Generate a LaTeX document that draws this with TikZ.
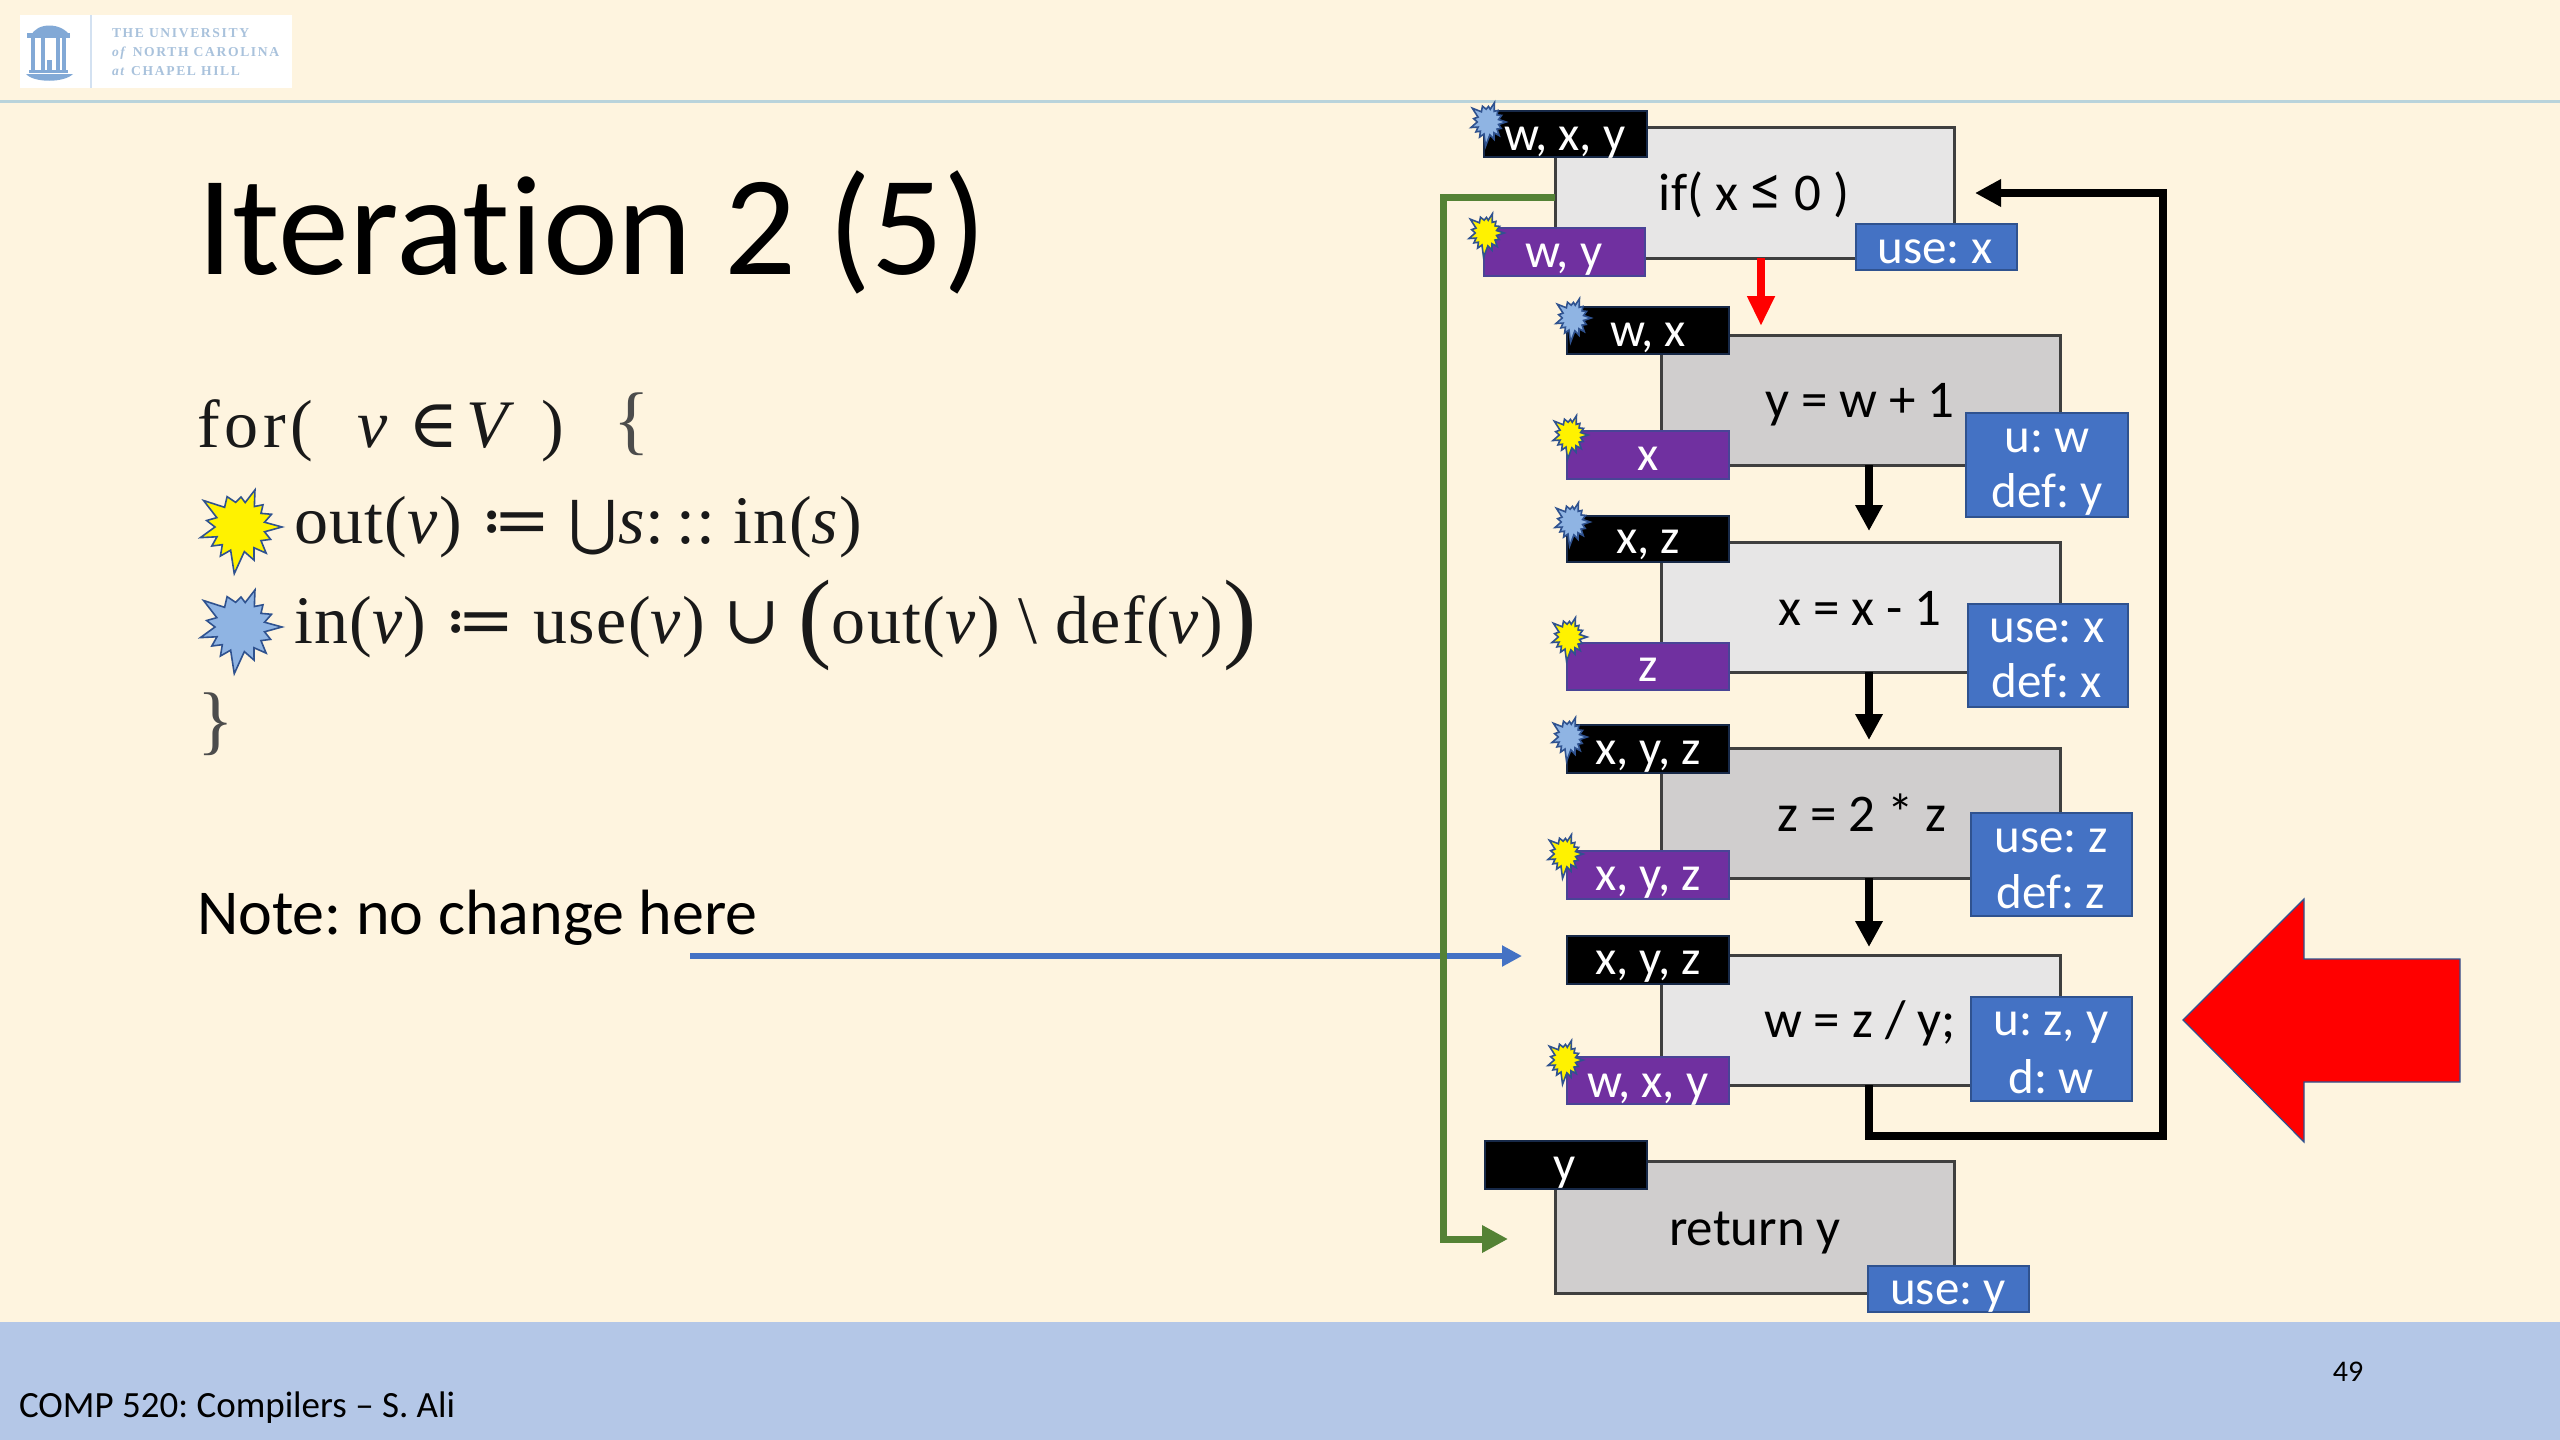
\documentclass[tikz,border=0pt]{standalone}
\usepackage{fontspec}
\setmainfont{Carlito}
\newfontfamily\cam[LetterSpace=2]{Liberation Serif}
\newfontfamily\sym{DejaVu Serif}
\newfontfamily\symb{DejaVu Sans}
\newfontfamily\logof[LetterSpace=12]{Liberation Serif}
\usetikzlibrary{arrows.meta,calc}
\frenchspacing
\definecolor{bgc}{HTML}{FEF4DF}
\definecolor{bandc}{HTML}{B4C7E7}
\definecolor{rulec}{HTML}{B9D3DB}
\definecolor{lightb}{HTML}{E7E6E6}
\definecolor{darkb}{HTML}{D0CECE}
\definecolor{edgec}{HTML}{3F3F3F}
\definecolor{purplec}{HTML}{7030A0}
\definecolor{bluec}{HTML}{4472C4}
\definecolor{blueedge}{HTML}{2F528F}
\definecolor{greenc}{HTML}{548235}
\definecolor{burstblue}{HTML}{8FB4E3}
\definecolor{logoc}{HTML}{82A9D6}
\definecolor{logot}{HTML}{A9C2DC}
\tikzset{
  x=0.5pt,y=-0.5pt,
  rectn/.style={inner sep=0pt,outer sep=0pt,anchor=center},
  mainlight/.style={rectn,fill=lightb,draw=edgec,line width=1.5pt},
  maindark/.style={rectn,fill=darkb,draw=edgec,line width=1.5pt},
  blackbox/.style={rectn,fill=black,draw=blueedge!50!black,line width=.6pt},
  purplebox/.style={rectn,fill=purplec,draw=blueedge!60!purplec,line width=.6pt},
  bluebox/.style={rectn,fill=bluec,draw=blueedge,line width=.8pt},
  txt/.style={inner sep=0pt,outer sep=0pt,anchor=base},
  codetxt/.style={txt,text=black,font=\fontsize{26.5}{30}\selectfont},
  labtxt/.style={txt,text=white,font=\fontsize{24.5}{28}\selectfont},
  mathtxt/.style={txt,anchor=base west,text=black!90,font=\cam\fontsize{34}{38}\selectfont},
  bracetxt/.style={txt,anchor=base west,text=black!70,font=\cam\fontsize{38}{42}\selectfont},
  blackarrow/.style={draw=black,line width=4.2pt,-{Triangle[length=13pt,width=13pt]}},
  loopback/.style={draw=black,line width=3.7pt,line join=miter,-{Triangle[length=13pt,width=13pt]}},
  redarrow/.style={draw=red,line width=4pt,-{Triangle[length=15pt,width=13pt]}},
  greenarrow/.style={draw=greenc,line width=3.5pt,-{Triangle[length=13pt,width=13pt]}},
  notearrow/.style={draw=bluec,line width=2.6pt,-{Triangle[length=10pt,width=10pt]}},
  pics/burst/.style 2 args={code={
    \draw[fill=#1,draw=blueedge,line width=#2,line join=miter,miter limit=20]
      (0:42) -- (11:25) -- (22:33) -- (33:25) -- (45:37) -- (56:25) -- (67:36) -- (80:25) -- (97:47)
      -- (112:25) -- (124:35) -- (135:25) -- (146:34) -- (157:25) -- (165:41) -- (180:25) -- (191:34)
      -- (202:25) -- (216:45) -- (232:25) -- (247:33) -- (260:25) -- (272:30) -- (282:25) -- (292:40)
      -- (305:25) -- (316:32) -- (327:25) -- (338:34) -- (349:25) -- cycle;
  }},
}
\newcommand\bx[6]{\node[#1,minimum width={(#5-#3)*0.5pt},minimum height={(#6-#4)*0.5pt}] (#2) at ({(#3+#5)/2},{(#4+#6)/2}) {};}
\newcommand\tx[5]{\node[#1] (#2) at (#3,#4) {#5};}
\begin{document}
\begin{tikzpicture}
\useasboundingbox (0,0) rectangle (2560,1440);
\fill[bgc] (0,0) rectangle (2560,1440);
\fill[bandc] (0,1322) rectangle (2560,1440);
\draw[rulec,line width=1.5pt] (0,101) -- (2560,101);

% logo
\fill[white] (20,15) rectangle (292,88);
\draw[logoc!35!white,line width=.6pt] (91,15) -- (91,88);
\begin{scope}[logoc]
  \fill (31,36) .. controls (36,22) and (62,22) .. (70,36) -- cycle;
  \fill (27,33) rectangle (70,38);
  \foreach \q in {31,41,56,62} {\fill (\q,38) rectangle ++(4,33);}
  \fill (47,60) rectangle (52,70);
  \fill (29,70) rectangle (68,73);
  \fill (26,74) .. controls (34,83) and (64,83) .. (73,74) -- cycle;
\end{scope}
\tx{txt,anchor=base west,text=logot,font=\logof\bfseries\fontsize{6.8}{8}\selectfont}{lg1}{112}{37}{THE UNIVERSITY}
\tx{txt,anchor=base west,text=logot,font=\logof\bfseries\fontsize{6.8}{8}\selectfont}{lg2}{112}{56}{\textit{of} NORTH CAROLINA}
\tx{txt,anchor=base west,text=logot,font=\logof\bfseries\fontsize{6.8}{8}\selectfont}{lg3}{112}{75}{\textit{at} CHAPEL HILL}

% left side text
\tx{txt,anchor=base west,font=\addfontfeature{Ligatures=NoCommon}\fontsize{71}{80}\selectfont}{title}{197}{274}{Iteration 2 (5)}
\tx{mathtxt}{l1}{197}{447}{\addfontfeature{LetterSpace=7}for(}
\tx{mathtxt}{l1v}{357}{447}{\textit{v}}
\tx{mathtxt}{l1in}{408}{447}{{\sym ∈}}
\tx{mathtxt}{l1V}{466}{447}{\textit{V}}
\tx{mathtxt}{l1p}{541}{447}{)}
\tx{bracetxt}{l1b}{613}{445}{\{}
\tx{mathtxt}{l2}{294}{543}{out(\textit{v}) {\sym ≔} {\symb\fontsize{30}{30}\selectfont ⋃}\textit{s}:\,:: in(\textit{s})}
\tx{mathtxt}{l3}{294}{643}{in(\textit{v}) {\sym ≔} use(\textit{v}) {\sym ∪} {\fontsize{50}{50}\selectfont\raisebox{-3pt}{(}}out(\textit{v}) \textbackslash{} def(\textit{v}){\fontsize{50}{50}\selectfont\raisebox{-3pt}{)}}}
\tx{bracetxt}{l4}{197}{745}{\}}
\tx{txt,anchor=base west,font=\fontsize{32}{36}\selectfont}{note}{197}{934}{Note: no change here}
\tx{txt,anchor=base west,font=\fontsize{18.5}{22}\selectfont}{foot}{19}{1417}{COMP 520: Compilers – S. Ali}
\tx{txt,anchor=base,font=\fontsize{15}{18}\selectfont}{pnum}{2348}{1381}{49}
\pic at (240,527) {burst={yellow}{.8pt}};
\pic at (240,627) {burst={burstblue}{.8pt}};

% main boxes
\bx{mainlight}{ifb}{1555}{127}{1954}{258}
\bx{maindark}{b2}{1661}{335}{2060}{465}
\bx{mainlight}{b3}{1661}{542}{2060}{672}
\bx{maindark}{b4}{1661}{748}{2060}{878}
\bx{mainlight}{b5}{1661}{955}{2060}{1085}
\bx{maindark}{b6}{1555}{1161}{1954}{1293}

% connector ends
\coordinate (redtip) at (1761,326);
\coordinate (t2) at (1869,531);
\coordinate (t3) at (1869,740);
\coordinate (t4) at (1869,947);
\coordinate (lc1) at (1869,1136);
\coordinate (lc2) at (2163,1136);
\coordinate (looptip) at (1975,193);
\coordinate (gs) at (1555,197);
\coordinate (gc) at (1443,1239);
\coordinate (gtip) at (1508,1239);
\coordinate (nstart) at (690,956);
\coordinate (ntip) at (1522,956);

\draw[notearrow] (nstart) -- (ntip);
\draw[greenarrow] (gs) -| (gc) -- (gtip);
\draw[redarrow] (redtip |- ifb.south) -- (redtip);
\draw[blackarrow] (t2 |- b2.south) -- (t2);
\draw[blackarrow] (t3 |- b3.south) -- (t3);
\draw[blackarrow] (t4 |- b4.south) -- (t4);
\draw[loopback] (lc1 |- b5.south) -- (lc1) -- (lc2) |- (looptip);

% big red arrow
\fill[red,draw=blueedge,line width=.6pt] (2183,1020) -- (2304,899) -- (2304,959) -- (2460,959) -- (2460,1082) -- (2304,1082) -- (2304,1142) -- cycle;

% in / out / use-def boxes
\bx{blackbox}{k1}{1484}{111}{1647}{157}
\bx{purplebox}{p1}{1484}{228}{1645}{276}
\bx{bluebox}{u1}{1856}{224}{2017}{270}
\bx{blackbox}{k2}{1567}{307}{1729}{354}
\bx{purplebox}{p2}{1567}{431}{1729}{479}
\bx{bluebox}{u2}{1966}{413}{2128}{517}
\bx{blackbox}{k3}{1567}{516}{1729}{562}
\bx{purplebox}{p3}{1567}{643}{1729}{690}
\bx{bluebox}{u3}{1968}{604}{2128}{707}
\bx{blackbox}{k4}{1567}{725}{1729}{773}
\bx{purplebox}{p4}{1567}{851}{1729}{899}
\bx{bluebox}{u4}{1971}{813}{2132}{916}
\bx{blackbox}{k5}{1567}{936}{1729}{984}
\bx{purplebox}{p5}{1567}{1057}{1729}{1104}
\bx{bluebox}{u5}{1971}{997}{2132}{1101}
\bx{blackbox}{k6}{1485}{1141}{1647}{1189}
\bx{bluebox}{u6}{1868}{1266}{2029}{1312}

% code text
\tx{codetxt}{c1}{1754}{210}{if( x {\fontsize{32}{32}\selectfont ≤} 0 )}
\tx{codetxt}{c2}{1860}{417}{y = w + 1}
\tx{codetxt}{c3}{1860}{625}{x = x - 1}
\tx{codetxt}{c4}{1862}{831}{z = 2 * z}
\tx{codetxt}{c5}{1860}{1037}{w = z / y;}
\tx{codetxt}{c6}{1755}{1245}{return y}

% labels
\tx{labtxt}{kt1}{1565}{150}{w, x, y}
\tx{labtxt}{pt1}{1564}{267}{w, y}
\tx{labtxt}{ut1}{1935}{263}{use: x}
\tx{labtxt}{kt2}{1648}{346}{w, x}
\tx{labtxt}{pt2}{1648}{470}{x}
\tx{labtxt}{ut2a}{2047}{452}{u: w}
\tx{labtxt}{ut2b}{2047}{507}{def: y}
\tx{labtxt}{kt3}{1648}{553}{x, z}
\tx{labtxt}{pt3}{1648}{681}{z}
\tx{labtxt}{ut3a}{2047}{642}{use: x}
\tx{labtxt}{ut3b}{2047}{697}{def: x}
\tx{labtxt}{kt4}{1648}{764}{x, y, z}
\tx{labtxt}{pt4}{1648}{890}{x, y, z}
\tx{labtxt}{ut4a}{2051}{852}{use: z}
\tx{labtxt}{ut4b}{2051}{908}{def: z}
\tx{labtxt}{kt5}{1648}{974}{x, y, z}
\tx{labtxt}{pt5}{1648}{1097}{w, x, y}
\tx{labtxt}{ut5a}{2051}{1035}{u: z, y}
\tx{labtxt}{ut5b}{2051}{1093}{d: w}
\tx{labtxt}{kt6}{1565}{1180}{y}
\tx{labtxt}{ut6}{1948}{1304}{use: y}

% small bursts
\pic[xscale=.43,yscale=.52] at (1488,122) {burst={burstblue}{.8pt}};
\pic[xscale=.43,yscale=.52] at (1486,233) {burst={yellow}{.8pt}};
\pic[xscale=.43,yscale=.52] at (1573,318) {burst={burstblue}{.8pt}};
\pic[xscale=.43,yscale=.52] at (1570,435) {burst={yellow}{.8pt}};
\pic[xscale=.43,yscale=.52] at (1572,522) {burst={burstblue}{.8pt}};
\pic[xscale=.43,yscale=.52] at (1569,637) {burst={yellow}{.8pt}};
\pic[xscale=.43,yscale=.52] at (1569,737) {burst={burstblue}{.8pt}};
\pic[xscale=.43,yscale=.52] at (1565,854) {burst={yellow}{.8pt}};
\pic[xscale=.43,yscale=.52] at (1565,1060) {burst={yellow}{.8pt}};
\end{tikzpicture}
\end{document}
